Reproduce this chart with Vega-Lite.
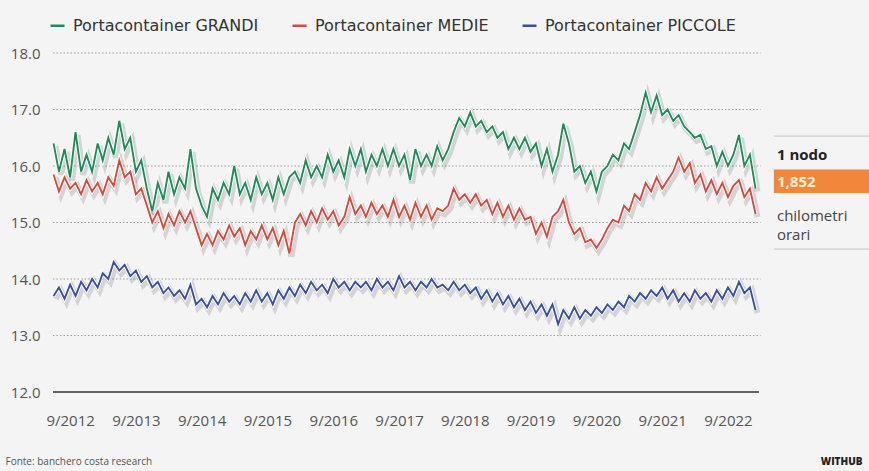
{
  "$schema": "https://vega.github.io/schema/vega-lite/v6.json",
  "width": 816,
  "height": 339,
  "autosize": {"type": "none"},
  "padding": {"left": 53, "top": 53, "right": 0, "bottom": 79},
  "background": "#f4f4f4",
  "config": {"view": {"stroke": null}, "font": "Open Sans"},
  "title": {"text": "WITHUB", "orient": "bottom", "anchor": "end", "fontSize": 10, "fontWeight": 900, "color": "#222", "offset": -9, "dx": -7, "font": "Open Sans"},
  "datasets": {
    "series": [
      {"d":"2012-06","g":16.4,"m":15.85,"p":13.7},
      {"d":"2012-07","g":15.9,"m":15.55,"p":13.85},
      {"d":"2012-08","g":16.3,"m":15.8,"p":13.65},
      {"d":"2012-09","g":15.8,"m":15.6,"p":13.9},
      {"d":"2012-10","g":16.6,"m":15.7,"p":13.7},
      {"d":"2012-11","g":15.9,"m":15.5,"p":13.95},
      {"d":"2012-12","g":16.2,"m":15.75,"p":13.8},
      {"d":"2013-01","g":15.9,"m":15.55,"p":14.0},
      {"d":"2013-02","g":16.4,"m":15.7,"p":13.85},
      {"d":"2013-03","g":16.1,"m":15.5,"p":14.1},
      {"d":"2013-04","g":16.5,"m":15.8,"p":14.0},
      {"d":"2013-05","g":16.2,"m":15.65,"p":14.3},
      {"d":"2013-06","g":16.8,"m":16.1,"p":14.15},
      {"d":"2013-07","g":16.3,"m":15.8,"p":14.25},
      {"d":"2013-08","g":16.5,"m":15.9,"p":14.05},
      {"d":"2013-09","g":15.9,"m":15.5,"p":14.15},
      {"d":"2013-10","g":16.1,"m":15.6,"p":13.95},
      {"d":"2013-11","g":15.6,"m":15.3,"p":14.05},
      {"d":"2013-12","g":15.2,"m":15.0,"p":13.85},
      {"d":"2014-01","g":15.7,"m":15.2,"p":13.95},
      {"d":"2014-02","g":15.4,"m":14.9,"p":13.75},
      {"d":"2014-03","g":15.9,"m":15.15,"p":13.85},
      {"d":"2014-04","g":15.5,"m":14.95,"p":13.7},
      {"d":"2014-05","g":15.8,"m":15.2,"p":13.8},
      {"d":"2014-06","g":15.6,"m":15.0,"p":13.65},
      {"d":"2014-07","g":16.3,"m":15.2,"p":13.9},
      {"d":"2014-08","g":15.6,"m":14.9,"p":13.55},
      {"d":"2014-09","g":15.3,"m":14.6,"p":13.65},
      {"d":"2014-10","g":15.1,"m":14.8,"p":13.5},
      {"d":"2014-11","g":15.6,"m":14.6,"p":13.7},
      {"d":"2014-12","g":15.4,"m":14.85,"p":13.55},
      {"d":"2015-01","g":15.7,"m":14.7,"p":13.75},
      {"d":"2015-02","g":15.5,"m":14.95,"p":13.6},
      {"d":"2015-03","g":16.0,"m":14.75,"p":13.7},
      {"d":"2015-04","g":15.5,"m":14.9,"p":13.55},
      {"d":"2015-05","g":15.7,"m":14.6,"p":13.75},
      {"d":"2015-06","g":15.4,"m":14.85,"p":13.6},
      {"d":"2015-07","g":15.8,"m":14.7,"p":13.8},
      {"d":"2015-08","g":15.5,"m":14.95,"p":13.6},
      {"d":"2015-09","g":15.7,"m":14.7,"p":13.75},
      {"d":"2015-10","g":15.4,"m":14.9,"p":13.55},
      {"d":"2015-11","g":15.8,"m":14.6,"p":13.8},
      {"d":"2015-12","g":15.5,"m":14.85,"p":13.65},
      {"d":"2016-01","g":15.8,"m":14.45,"p":13.85},
      {"d":"2016-02","g":15.9,"m":15.0,"p":13.7},
      {"d":"2016-03","g":15.7,"m":15.15,"p":13.9},
      {"d":"2016-04","g":16.1,"m":14.95,"p":13.75},
      {"d":"2016-05","g":15.8,"m":15.2,"p":13.95},
      {"d":"2016-06","g":16.0,"m":15.0,"p":13.8},
      {"d":"2016-07","g":15.8,"m":15.25,"p":13.9},
      {"d":"2016-08","g":16.2,"m":15.05,"p":13.75},
      {"d":"2016-09","g":15.9,"m":15.2,"p":14.0},
      {"d":"2016-10","g":16.1,"m":14.95,"p":13.85},
      {"d":"2016-11","g":15.8,"m":15.1,"p":13.95},
      {"d":"2016-12","g":16.3,"m":15.45,"p":13.8},
      {"d":"2017-01","g":16.0,"m":15.15,"p":13.95},
      {"d":"2017-02","g":16.3,"m":15.3,"p":13.85},
      {"d":"2017-03","g":15.9,"m":15.1,"p":13.95},
      {"d":"2017-04","g":16.2,"m":15.35,"p":13.8},
      {"d":"2017-05","g":16.0,"m":15.15,"p":14.0},
      {"d":"2017-06","g":16.3,"m":15.3,"p":13.85},
      {"d":"2017-07","g":16.0,"m":15.1,"p":13.95},
      {"d":"2017-08","g":16.3,"m":15.4,"p":13.8},
      {"d":"2017-09","g":16.0,"m":15.1,"p":14.05},
      {"d":"2017-10","g":16.2,"m":15.3,"p":13.85},
      {"d":"2017-11","g":15.75,"m":15.05,"p":13.95},
      {"d":"2017-12","g":16.3,"m":15.35,"p":13.8},
      {"d":"2018-01","g":16.0,"m":15.1,"p":13.95},
      {"d":"2018-02","g":16.2,"m":15.3,"p":13.85},
      {"d":"2018-03","g":16.0,"m":15.05,"p":14.0},
      {"d":"2018-04","g":16.35,"m":15.25,"p":13.85},
      {"d":"2018-05","g":16.1,"m":15.2,"p":13.9},
      {"d":"2018-06","g":16.3,"m":15.3,"p":13.8},
      {"d":"2018-07","g":16.6,"m":15.6,"p":13.95},
      {"d":"2018-08","g":16.85,"m":15.4,"p":13.8},
      {"d":"2018-09","g":16.7,"m":15.5,"p":13.9},
      {"d":"2018-10","g":16.95,"m":15.35,"p":13.75},
      {"d":"2018-11","g":16.7,"m":15.5,"p":13.85},
      {"d":"2018-12","g":16.8,"m":15.3,"p":13.65},
      {"d":"2019-01","g":16.6,"m":15.4,"p":13.8},
      {"d":"2019-02","g":16.7,"m":15.15,"p":13.6},
      {"d":"2019-03","g":16.5,"m":15.35,"p":13.75},
      {"d":"2019-04","g":16.6,"m":15.1,"p":13.55},
      {"d":"2019-05","g":16.3,"m":15.3,"p":13.7},
      {"d":"2019-06","g":16.5,"m":15.05,"p":13.5},
      {"d":"2019-07","g":16.3,"m":15.25,"p":13.65},
      {"d":"2019-08","g":16.5,"m":15.05,"p":13.45},
      {"d":"2019-09","g":16.25,"m":15.1,"p":13.6},
      {"d":"2019-10","g":16.4,"m":14.8,"p":13.4},
      {"d":"2019-11","g":16.0,"m":15.0,"p":13.55},
      {"d":"2019-12","g":16.3,"m":14.75,"p":13.35},
      {"d":"2020-01","g":15.9,"m":15.1,"p":13.55},
      {"d":"2020-02","g":16.2,"m":15.2,"p":13.2},
      {"d":"2020-03","g":16.75,"m":15.4,"p":13.45},
      {"d":"2020-04","g":16.4,"m":15.0,"p":13.3},
      {"d":"2020-05","g":15.9,"m":14.8,"p":13.5},
      {"d":"2020-06","g":16.0,"m":14.9,"p":13.3},
      {"d":"2020-07","g":15.7,"m":14.65,"p":13.45},
      {"d":"2020-08","g":15.9,"m":14.7,"p":13.35},
      {"d":"2020-09","g":15.55,"m":14.55,"p":13.5},
      {"d":"2020-10","g":15.9,"m":14.7,"p":13.4},
      {"d":"2020-11","g":16.0,"m":14.9,"p":13.55},
      {"d":"2020-12","g":16.2,"m":15.05,"p":13.45},
      {"d":"2021-01","g":16.1,"m":15.0,"p":13.6},
      {"d":"2021-02","g":16.4,"m":15.3,"p":13.5},
      {"d":"2021-03","g":16.3,"m":15.2,"p":13.7},
      {"d":"2021-04","g":16.6,"m":15.5,"p":13.6},
      {"d":"2021-05","g":16.9,"m":15.4,"p":13.75},
      {"d":"2021-06","g":17.3,"m":15.7,"p":13.65},
      {"d":"2021-07","g":16.95,"m":15.55,"p":13.8},
      {"d":"2021-08","g":17.25,"m":15.8,"p":13.7},
      {"d":"2021-09","g":16.9,"m":15.6,"p":13.85},
      {"d":"2021-10","g":17.0,"m":15.75,"p":13.65},
      {"d":"2021-11","g":16.8,"m":15.9,"p":13.8},
      {"d":"2021-12","g":16.9,"m":16.15,"p":13.6},
      {"d":"2022-01","g":16.7,"m":15.9,"p":13.75},
      {"d":"2022-02","g":16.6,"m":16.05,"p":13.6},
      {"d":"2022-03","g":16.5,"m":15.7,"p":13.8},
      {"d":"2022-04","g":16.55,"m":15.85,"p":13.65},
      {"d":"2022-05","g":16.3,"m":15.55,"p":13.75},
      {"d":"2022-06","g":16.35,"m":15.75,"p":13.6},
      {"d":"2022-07","g":16.0,"m":15.5,"p":13.8},
      {"d":"2022-08","g":16.25,"m":15.7,"p":13.65},
      {"d":"2022-09","g":16.0,"m":15.45,"p":13.85},
      {"d":"2022-10","g":16.2,"m":15.65,"p":13.7},
      {"d":"2022-11","g":16.55,"m":15.75,"p":13.95},
      {"d":"2022-12","g":16.0,"m":15.45,"p":13.75},
      {"d":"2023-01","g":16.2,"m":15.6,"p":13.85},
      {"d":"2023-02","g":15.6,"m":15.15,"p":13.45}
    ]
  },
  "layer": [
    {
      "data": {"values": [{"v": 13}, {"v": 14}, {"v": 15}, {"v": 16}, {"v": 17}, {"v": 18}]},
      "mark": {"type": "rule", "color": "#9c9c9c", "strokeWidth": 1, "strokeDash": [1.5, 2]},
      "encoding": {
        "x": {"datum": {"year": 2012, "month": 5, "date": 29}, "type": "temporal"},
        "x2": {"datum": {"year": 2023, "month": 3, "date": 1}},
        "y": {"field": "v", "type": "quantitative"}
      }
    },
    {
      "data": {"values": [{"v": 12}]},
      "mark": {"type": "rule", "color": "#333333", "strokeWidth": 1.6},
      "encoding": {
        "x": {"datum": {"year": 2012, "month": 5, "date": 29}, "type": "temporal"},
        "x2": {"datum": {"year": 2023, "month": 2, "date": 20}},
        "y": {"field": "v", "type": "quantitative"}
      }
    },
    {
      "data": {"name": "series"},
      "transform": [{"fold": ["g", "m", "p"], "as": ["s", "v"]}],
      "encoding": {
        "x": {
          "field": "d", "type": "temporal",
          "scale": {"domain": [{"year": 2012, "month": 5, "date": 29}, {"year": 2024, "month": 10, "date": 23}]},
          "axis": {
            "values": [
              {"year": 2012, "month": 9, "date": 1}, {"year": 2013, "month": 9, "date": 1},
              {"year": 2014, "month": 9, "date": 1}, {"year": 2015, "month": 9, "date": 1},
              {"year": 2016, "month": 9, "date": 1}, {"year": 2017, "month": 9, "date": 1},
              {"year": 2018, "month": 9, "date": 1}, {"year": 2019, "month": 9, "date": 1},
              {"year": 2020, "month": 9, "date": 1}, {"year": 2021, "month": 9, "date": 1},
              {"year": 2022, "month": 9, "date": 1}
            ],
            "format": "%-m/%Y",
            "labelFontSize": 15, "labelColor": "#555555", "labelPadding": 21,
            "ticks": false, "domain": false, "grid": false,
            "title": "Fonte: banchero costa research",
            "titleAnchor": "start", "titleAlign": "left", "titleX": -48,
            "titleFontSize": 10, "titleFontWeight": "normal", "titleColor": "#555555", "titlePadding": 28
          }
        },
        "y": {
          "field": "v", "type": "quantitative",
          "scale": {"domain": [12, 18], "zero": false, "nice": false},
          "axis": {
            "values": [12, 13, 14, 15, 16, 17, 18], "format": ".1f",
            "labelFontSize": 15, "labelColor": "#555555", "labelPadding": 13,
            "ticks": false, "domain": false, "grid": false, "title": null
          }
        }
      },
      "layer": [
        {
          "mark": {"type": "line", "stroke": "#000000", "strokeWidth": 6, "opacity": 0.13, "xOffset": 2, "yOffset": 3},
          "encoding": {"detail": {"field": "s"}}
        },
        {
          "mark": {"type": "line", "stroke": "#ffffff", "strokeWidth": 3.8},
          "encoding": {"detail": {"field": "s"}}
        },
        {
          "mark": {"type": "line", "strokeWidth": 1.9},
          "encoding": {
            "color": {
              "field": "s", "type": "nominal",
              "scale": {"domain": ["g", "m", "p"], "range": ["#1e8c57", "#d64a3e", "#3a4fa3"]},
              "legend": {
                "orient": "none", "legendX": -4, "legendY": -36, "direction": "horizontal",
                "title": null, "symbolType": "stroke", "symbolSize": 196, "symbolStrokeWidth": 2.5,
                "labelFontSize": 16, "labelFont": "DejaVu Sans", "labelColor": "#333333", "labelLimit": 400,
                "columnPadding": 28, "labelOffset": 7,
                "labelExpr": "datum.label == 'g' ? 'Portacontainer GRANDI' : datum.label == 'm' ? 'Portacontainer MEDIE' : 'Portacontainer PICCOLE'"
              }
            }
          }
        }
      ]
    },
    {
      "data": {"values": [{"v": 16.53}, {"v": 14.53}]},
      "mark": {"type": "rule", "color": "#c4c4c4", "strokeWidth": 1},
      "encoding": {
        "x": {"datum": {"year": 2023, "month": 5, "date": 14}, "type": "temporal"},
        "x2": {"datum": {"year": 2024, "month": 10, "date": 23}},
        "y": {"field": "v", "type": "quantitative"}
      }
    },
    {
      "data": {"values": [{"lo": 15.52, "hi": 15.94}]},
      "mark": {"type": "rect", "color": "#f0873a"},
      "encoding": {
        "x": {"datum": {"year": 2023, "month": 5, "date": 14}, "type": "temporal"},
        "x2": {"datum": {"year": 2024, "month": 10, "date": 23}},
        "y": {"field": "hi", "type": "quantitative"},
        "y2": {"field": "lo"}
      }
    },
    {
      "data": {"values": [
        {"t": "1 nodo", "v": 16.19, "k": "head"},
        {"t": "1,852", "v": 15.72, "k": "num"}
      ]},
      "mark": {"type": "text", "align": "left", "baseline": "middle", "fontSize": 15, "fontWeight": "bold"},
      "encoding": {
        "x": {"datum": {"year": 2023, "month": 5, "date": 31}, "type": "temporal"},
        "y": {"field": "v", "type": "quantitative"},
        "text": {"field": "t"},
        "color": {"field": "k", "type": "nominal", "scale": {"domain": ["head", "num"], "range": ["#222222", "#fdf0dc"]}, "legend": null}
      }
    },
    {
      "data": {"values": [
        {"t": "chilometri", "v": 15.12},
        {"t": "orari", "v": 14.78}
      ]},
      "mark": {"type": "text", "align": "left", "baseline": "middle", "fontSize": 15, "color": "#444444"},
      "encoding": {
        "x": {"datum": {"year": 2023, "month": 5, "date": 31}, "type": "temporal"},
        "y": {"field": "v", "type": "quantitative"},
        "text": {"field": "t"}
      }
    }
  ],
  "resolve": {"scale": {"color": "independent"}}
}
